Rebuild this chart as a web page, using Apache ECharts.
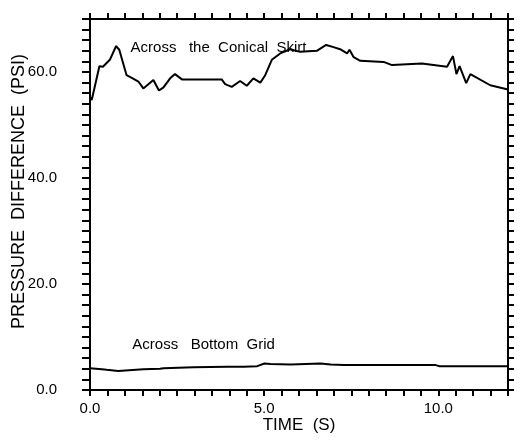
<!DOCTYPE html>
<html>
<head>
<meta charset="utf-8">
<script src="https://cdn.jsdelivr.net/npm/echarts@6/dist/echarts.min.js"></script>
<style>
  html, body { margin: 0; padding: 0; background: #fff; }
  #chart { width: 520px; height: 442px; }
</style>
</head>
<body>
<div id="chart"></div>
<script>
// Across the Conical Skirt
const skirtTime = [0, 0.05, 0.27, 0.37, 0.57, 0.75, 0.84, 1.05, 1.2, 1.39, 1.53, 1.82, 1.98, 2.11, 2.3, 2.44, 2.64,
  3.78, 3.88, 4.07, 4.31, 4.5, 4.69, 4.89, 5.03, 5.22, 5.46, 5.75, 6.03, 6.51, 6.78, 6.99, 7.18, 7.38, 7.45, 7.57,
  7.76, 8.43, 8.67, 9.53, 10.25, 10.42, 10.52, 10.61, 10.8, 10.92, 11.49, 12]
const skirtPsi = [55.3, 54.7, 61.1, 61.0, 62.3, 64.9, 64.2, 59.4, 58.9, 58.2, 56.9, 58.5, 56.5, 57.1, 58.8, 59.6, 58.6,
  58.6, 57.7, 57.2, 58.3, 57.4, 58.8, 58.0, 59.4, 62.3, 63.5, 64.3, 63.8, 64.0, 65.1, 64.7, 64.3, 63.5, 64.2, 62.8,
  62.1, 61.9, 61.3, 61.6, 61.0, 63.0, 59.6, 61.1, 57.9, 59.6, 57.5, 56.7]

// Across Bottom Grid
const gridTime = [0, 0.34, 0.48, 0.81, 1.53, 2.01, 2.11, 2.97, 3.93, 4.41, 4.8, 5.01, 5.18, 5.76, 6.62, 6.91, 7.29,
  8.73, 9.93, 10.02, 12]
const gridPsi = [4.1, 3.9, 3.8, 3.6, 3.9, 4.0, 4.1, 4.3, 4.4, 4.4, 4.5, 5.0, 4.9, 4.8, 5.0, 4.8, 4.7,
  4.7, 4.7, 4.5, 4.5]

const xTickLabels = [0, 5, 10]
const yTickLabels = [0, 20, 40, 60]

const pairs = (xs, ys) => xs.map((x, i) => [x, ys[i]])

const black = '#000'
const font = 'Liberation Sans, Arial, sans-serif'

const chart = echarts.init(document.getElementById('chart'), null, {renderer: 'canvas'})

const tick = len => ({inside: false, length: len, lineStyle: {color: black, width: 2}})
const line = {onZero: false, lineStyle: {color: black, width: 2}}

// text next to each curve
const annot = text => ({
  symbol: 'rect',
  symbolSize: 1,
  itemStyle: {color: 'rgba(0,0,0,0)'},
  label: {show: true, position: 'right', distance: 0, color: black, fontFamily: font, fontSize: 15, formatter: text}
})

const option = {
  backgroundColor: '#fff',
  animation: false,
  grid: {left: 90, right: 12, top: 19, bottom: 52, outerBoundsMode: 'none', containLabel: false},
  xAxis: [
    {
      type: 'value',
      position: 'bottom',
      min: 0,
      max: 12,
      interval: 0.5,
      name: 'TIME  (S)',
      nameLocation: 'middle',
      nameGap: 27,
      nameMoveOverlap: false,
      nameTextStyle: {color: black, fontFamily: font, fontSize: 17, verticalAlign: 'top'},
      axisLine: line,
      axisTick: tick(6),
      axisLabel: {
        margin: 11,
        color: black,
        fontFamily: font,
        fontSize: 15,
        formatter: v => xTickLabels.includes(v) ? v.toFixed(1) : ''
      },
      splitLine: {show: false}
    },
    {
      type: 'value',
      position: 'top',
      min: 0,
      max: 12,
      interval: 0.5,
      axisLine: line,
      axisTick: tick(6),
      axisLabel: {show: false},
      splitLine: {show: false}
    }
  ],
  yAxis: [
    {
      type: 'value',
      position: 'left',
      min: 0,
      max: 70,
      interval: 2,
      name: 'PRESSURE  DIFFERENCE  (PSI)',
      nameLocation: 'middle',
      nameGap: 62,
      nameMoveOverlap: false,
      nameTextStyle: {color: black, fontFamily: font, fontSize: 18, padding: [0, 0, 0, 26]},
      axisLine: line,
      axisTick: tick(8),
      axisLabel: {
        margin: 33,
        color: black,
        fontFamily: font,
        fontSize: 15,
        formatter: v => yTickLabels.includes(v) ? v.toFixed(1) : ''
      },
      splitLine: {show: false}
    },
    {
      type: 'value',
      position: 'right',
      min: 0,
      max: 70,
      interval: 2,
      axisLine: line,
      axisTick: tick(6),
      axisLabel: {show: false},
      splitLine: {show: false}
    }
  ],
  series: [
    {
      name: 'Across the Conical Skirt',
      type: 'line',
      data: pairs(skirtTime, skirtPsi),
      symbol: 'none',
      lineStyle: {color: black, width: 2},
      markPoint: Object.assign(annot('Across   the  Conical  Skirt'), {data: [{coord: [1.15, 64.6]}]})
    },
    {
      name: 'Across Bottom Grid',
      type: 'line',
      data: pairs(gridTime, gridPsi),
      symbol: 'none',
      lineStyle: {color: black, width: 2},
      markPoint: Object.assign(annot('Across   Bottom  Grid'), {data: [{coord: [1.2, 8.5]}]})
    }
  ]
}

chart.setOption(option)
</script>
</body>
</html>
